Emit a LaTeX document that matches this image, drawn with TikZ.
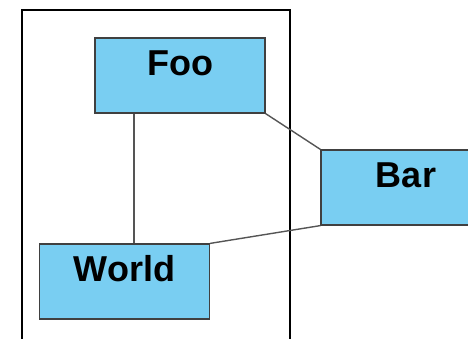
\documentclass[tikz,border=0pt]{standalone}
\usepackage{fontspec}
\setsansfont{Liberation Sans}
\definecolor{boxblue}{RGB}{121,206,242}
\definecolor{linegray}{RGB}{85,85,85}
\tikzset{
  block/.style={draw=black!75, fill=boxblue, line width=1.2pt,
    minimum width=170pt, minimum height=75pt, inner sep=0pt,
    text height=37.5pt, text depth=37.5pt,
    font=\sffamily\bfseries\fontsize{36}{36}\selectfont},
  link/.style={draw=linegray, line width=1.4pt}
}
\begin{document}
\begin{tikzpicture}[x=1pt,y=-1pt]
	\useasboundingbox (0,0) rectangle (468,339);
	\clip (0,0) rectangle (468,339);
	% frame
	\draw[line width=1.1pt] (22,350) -- (22,10) -- (290,10) -- (290,350);
	% boxes
	\node[block] (foo) at (180,75.5) {Foo};
	\node[block] (bar) at (406,187.5) {Bar};
	\node[block] (world) at (124.5,281.5) {World};
	% links
	\draw[link] ([xshift=-46pt]foo.south) -- ([xshift=9.5pt]world.north);
	\draw[link] (foo.south east) -- (bar.north west);
	\draw[link] (world.north east) -- (bar.south west);
\end{tikzpicture}
\end{document}
